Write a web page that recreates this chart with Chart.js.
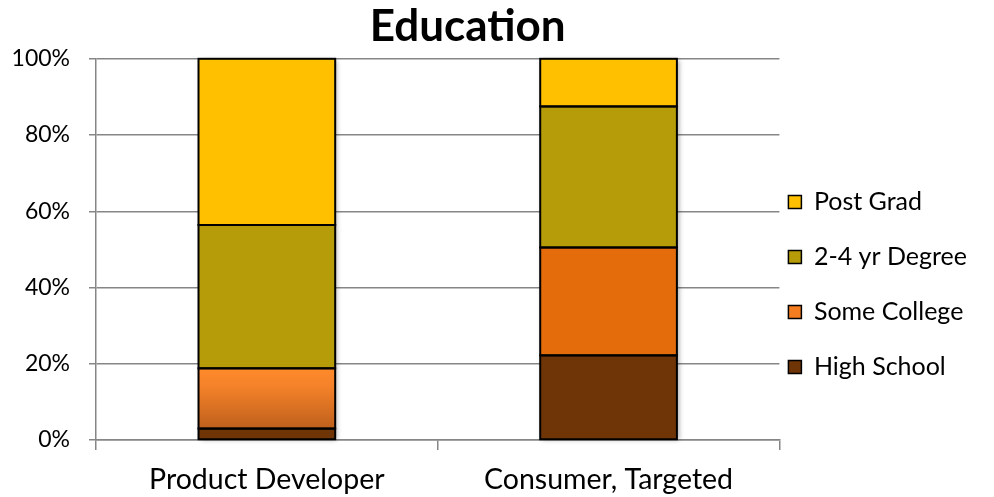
<!DOCTYPE html>
<html>
<head>
<meta charset="utf-8">
<script src="https://cdn.jsdelivr.net/npm/chart.js@4.4.0/dist/chart.umd.min.js"></script>
<style>
  html, body { margin: 0; padding: 0; background: #fff; }
  #wrap { width: 994px; height: 497px; }
</style>
</head>
<body>
<div id="wrap"><canvas id="chart"></canvas></div>
<script>
// data (percent of each group)
const categories = ['Product Developer', 'Consumer, Targeted'];
const highSchool = [3.0, 22.2];
const someCollege = [15.8, 28.3];
const degree = [37.6, 37.0];
const postGrad = [43.6, 12.5];

const FONT = 'Lato, "Open Sans", sans-serif';
const legendSwatch = { 'Some College': '#F47D20' };

// the product developer "Some College" bar is shaded top to bottom
function someCollegeColor(ctx) {
  const chart = ctx.chart;
  if (ctx.type !== 'data' || ctx.dataIndex !== 0 || !chart.chartArea) return '#E46C0A';
  const y = chart.scales.y;
  const top = y.getPixelForValue(highSchool[0] + someCollege[0]);
  const bottom = y.getPixelForValue(highSchool[0]);
  const g = chart.ctx.createLinearGradient(0, top, 0, bottom);
  g.addColorStop(0, '#FF8A2B');
  g.addColorStop(0.3, '#F5822A');
  g.addColorStop(1, '#BE601C');
  return g;
}

// outlines + soft shadow round the stacks, and nudging title / legend
const excelLook = {
  id: 'excelLook',
  afterLayout(chart) {
    const area = chart.chartArea;
    const tb = chart.titleBlock;
    const cx = (area.left + area.right) / 2 + 30;
    const w = tb.right - tb.left;
    tb.left = cx - w / 2;
    tb.right = cx + w / 2;
    const lg = chart.legend;
    const dy = (area.top + area.bottom) / 2 + 35 - (lg.top + lg.bottom) / 2;
    lg.top += dy;
    lg.bottom += dy;
    const dx = area.right + 9 - (lg.left + lg.options.labels.padding);
    lg.left += dx;
    lg.right += dx;
  },
  beforeDatasetsDraw(chart) {
    const ctx = chart.ctx;
    const first = chart.getDatasetMeta(0).data;
    ctx.save();
    ctx.shadowColor = 'rgba(0,0,0,0.35)';
    ctx.shadowBlur = 5;
    ctx.shadowOffsetX = 2;
    ctx.shadowOffsetY = 1;
    ctx.fillStyle = '#fff';
    first.forEach((bar, i) => {
      let top = bar.base;
      chart.data.datasets.forEach((ds, d) => {
        top = Math.min(top, chart.getDatasetMeta(d).data[i].y);
      });
      ctx.fillRect(bar.x - bar.width / 2, top, bar.width, bar.base - top);
    });
    ctx.restore();
  },
  afterDatasetsDraw(chart) {
    const ctx = chart.ctx;
    ctx.save();
    ctx.strokeStyle = '#000';
    ctx.lineWidth = 2;
    chart.data.datasets.forEach((ds, d) => {
      chart.getDatasetMeta(d).data.forEach(bar => {
        ctx.strokeRect(bar.x - bar.width / 2, bar.y, bar.width, bar.base - bar.y);
      });
    });
    ctx.restore();
  }
};

const barStyle = {
  borderWidth: 0,
  barPercentage: 0.4,
  categoryPercentage: 1.0
};

new Chart(document.getElementById('chart'), {
  type: 'bar',
  data: {
    labels: categories,
    datasets: [
      Object.assign({ label: 'High School', data: highSchool, backgroundColor: '#6F3507' }, barStyle),
      Object.assign({ label: 'Some College', data: someCollege, backgroundColor: someCollegeColor }, barStyle),
      Object.assign({ label: '2-4 yr Degree', data: degree, backgroundColor: '#B59C08' }, barStyle),
      Object.assign({ label: 'Post Grad', data: postGrad, backgroundColor: '#FFC000' }, barStyle)
    ]
  },
  plugins: [excelLook],
  options: {
    responsive: true,
    maintainAspectRatio: false,
    animation: false,
    layout: { padding: { left: 13, right: -4, top: 0, bottom: 3 } },
    plugins: {
      title: {
        display: true,
        text: 'Education',
        color: '#000',
        font: { family: FONT, size: 44, weight: 'bold', lineHeight: 1.2 },
        padding: { top: 0, bottom: 6 }
      },
      legend: {
        position: 'right',
        reverse: true,
        labels: {
          color: '#000',
          boxWidth: 13,
          boxHeight: 13,
          padding: 30,
          font: { family: FONT, size: 25 },
          generateLabels(chart) {
            const items = Chart.defaults.plugins.legend.labels.generateLabels(chart);
            items.forEach(it => {
              if (legendSwatch[it.text]) it.fillStyle = legendSwatch[it.text];
              it.strokeStyle = '#000';
              it.lineWidth = 1.5;
            });
            return items;
          }
        }
      },
      tooltip: { enabled: false }
    },
    scales: {
      x: {
        stacked: true,
        grid: { offset: true, drawOnChartArea: false, tickLength: 10, color: '#868686', lineWidth: 1.5 },
        border: { color: '#868686', width: 1.5 },
        ticks: { color: '#000', padding: 13, font: { family: FONT, size: 28.5 } },
        afterFit(scale) { scale.height = 54; }
      },
      y: {
        stacked: true,
        min: 0,
        max: 100,
        grid: { color: '#868686', lineWidth: 1.5, tickLength: 7 },
        border: { color: '#868686', width: 1.5 },
        ticks: {
          stepSize: 20,
          color: '#000',
          padding: 19,
          font: { family: FONT, size: 23 },
          callback: v => v + '%'
        },
        afterFit(scale) { scale.width = 83; }
      }
    }
  }
});
</script>
</body>
</html>
